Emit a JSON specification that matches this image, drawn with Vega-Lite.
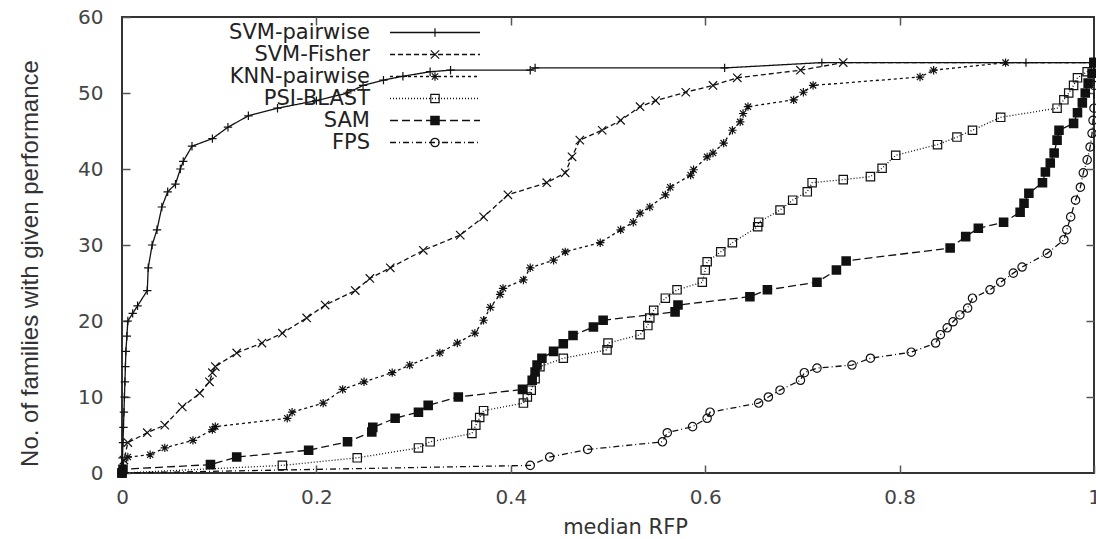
{
"$schema": "https://vega.github.io/schema/vega-lite/v6.json",
"width": 972, "height": 456,
"autosize": {"type": "none"},
"padding": {"left": 122, "top": 17, "right": 2, "bottom": 66},
"background": "white",
"config": {"view": {"stroke": "#333", "strokeWidth": 2}},
"data": {"values": [
{"m":"SVM-pairwise","x":0,"y":0},{"m":"SVM-pairwise","x":0.0005,"y":2},{"m":"SVM-pairwise","x":0.001,"y":4},{"m":"SVM-pairwise","x":0.0015,"y":6},{"m":"SVM-pairwise","x":0.002,"y":8},{"m":"SVM-pairwise","x":0.0025,"y":10},{"m":"SVM-pairwise","x":0.003,"y":12},{"m":"SVM-pairwise","x":0.0035,"y":14},{"m":"SVM-pairwise","x":0.004,"y":16},{"m":"SVM-pairwise","x":0.005,"y":18},{"m":"SVM-pairwise","x":0.006,"y":20},{"m":"SVM-pairwise","x":0.011,"y":21},{"m":"SVM-pairwise","x":0.016,"y":22},{"m":"SVM-pairwise","x":0.026,"y":24},{"m":"SVM-pairwise","x":0.027,"y":27},{"m":"SVM-pairwise","x":0.031,"y":30},{"m":"SVM-pairwise","x":0.036,"y":32},{"m":"SVM-pairwise","x":0.041,"y":35},{"m":"SVM-pairwise","x":0.047,"y":37},{"m":"SVM-pairwise","x":0.055,"y":38},{"m":"SVM-pairwise","x":0.06,"y":40},{"m":"SVM-pairwise","x":0.063,"y":41},{"m":"SVM-pairwise","x":0.072,"y":43},{"m":"SVM-pairwise","x":0.093,"y":44},{"m":"SVM-pairwise","x":0.109,"y":45.5},{"m":"SVM-pairwise","x":0.13,"y":47},{"m":"SVM-pairwise","x":0.16,"y":48},{"m":"SVM-pairwise","x":0.2,"y":49},{"m":"SVM-pairwise","x":0.232,"y":50},{"m":"SVM-pairwise","x":0.248,"y":51},{"m":"SVM-pairwise","x":0.269,"y":51.7},{"m":"SVM-pairwise","x":0.289,"y":52.2},{"m":"SVM-pairwise","x":0.317,"y":52.8},{"m":"SVM-pairwise","x":0.338,"y":53},{"m":"SVM-pairwise","x":0.42,"y":53},{"m":"SVM-pairwise","x":0.425,"y":53.3},{"m":"SVM-pairwise","x":0.62,"y":53.3},{"m":"SVM-pairwise","x":0.72,"y":54},{"m":"SVM-pairwise","x":0.93,"y":54},{"m":"SVM-pairwise","x":1,"y":54},
{"m":"SVM-Fisher","x":0,"y":0},{"m":"SVM-Fisher","x":0.002,"y":1.7},{"m":"SVM-Fisher","x":0.006,"y":4},{"m":"SVM-Fisher","x":0.026,"y":5.3},{"m":"SVM-Fisher","x":0.044,"y":6.3},{"m":"SVM-Fisher","x":0.062,"y":8.7},{"m":"SVM-Fisher","x":0.08,"y":10.5},{"m":"SVM-Fisher","x":0.09,"y":12},{"m":"SVM-Fisher","x":0.093,"y":13.2},{"m":"SVM-Fisher","x":0.096,"y":14},{"m":"SVM-Fisher","x":0.118,"y":15.8},{"m":"SVM-Fisher","x":0.144,"y":17.1},{"m":"SVM-Fisher","x":0.165,"y":18.4},{"m":"SVM-Fisher","x":0.19,"y":20.4},{"m":"SVM-Fisher","x":0.209,"y":22.1},{"m":"SVM-Fisher","x":0.24,"y":24},{"m":"SVM-Fisher","x":0.255,"y":25.6},{"m":"SVM-Fisher","x":0.276,"y":27},{"m":"SVM-Fisher","x":0.31,"y":29.3},{"m":"SVM-Fisher","x":0.348,"y":31.3},{"m":"SVM-Fisher","x":0.372,"y":33.7},{"m":"SVM-Fisher","x":0.397,"y":36.6},{"m":"SVM-Fisher","x":0.437,"y":38.2},{"m":"SVM-Fisher","x":0.456,"y":39.5},{"m":"SVM-Fisher","x":0.463,"y":41.6},{"m":"SVM-Fisher","x":0.471,"y":43.8},{"m":"SVM-Fisher","x":0.494,"y":45.1},{"m":"SVM-Fisher","x":0.513,"y":46.4},{"m":"SVM-Fisher","x":0.533,"y":48.2},{"m":"SVM-Fisher","x":0.549,"y":49},{"m":"SVM-Fisher","x":0.58,"y":50.1},{"m":"SVM-Fisher","x":0.608,"y":51},{"m":"SVM-Fisher","x":0.633,"y":52},{"m":"SVM-Fisher","x":0.698,"y":53},{"m":"SVM-Fisher","x":0.742,"y":54},{"m":"SVM-Fisher","x":1,"y":54},
{"m":"KNN-pairwise","x":0,"y":0},{"m":"KNN-pairwise","x":0.006,"y":2.1},{"m":"KNN-pairwise","x":0.029,"y":2.4},{"m":"KNN-pairwise","x":0.044,"y":3.3},{"m":"KNN-pairwise","x":0.073,"y":4.3},{"m":"KNN-pairwise","x":0.093,"y":5.7},{"m":"KNN-pairwise","x":0.096,"y":6.1},{"m":"KNN-pairwise","x":0.17,"y":7.2},{"m":"KNN-pairwise","x":0.175,"y":8},{"m":"KNN-pairwise","x":0.207,"y":9.2},{"m":"KNN-pairwise","x":0.227,"y":11},{"m":"KNN-pairwise","x":0.249,"y":12},{"m":"KNN-pairwise","x":0.278,"y":13.2},{"m":"KNN-pairwise","x":0.296,"y":14.2},{"m":"KNN-pairwise","x":0.327,"y":15.8},{"m":"KNN-pairwise","x":0.345,"y":17.1},{"m":"KNN-pairwise","x":0.363,"y":18.4},{"m":"KNN-pairwise","x":0.372,"y":20.1},{"m":"KNN-pairwise","x":0.379,"y":21.8},{"m":"KNN-pairwise","x":0.389,"y":23.5},{"m":"KNN-pairwise","x":0.392,"y":24.3},{"m":"KNN-pairwise","x":0.413,"y":25.4},{"m":"KNN-pairwise","x":0.42,"y":27},{"m":"KNN-pairwise","x":0.444,"y":28},{"m":"KNN-pairwise","x":0.456,"y":29.1},{"m":"KNN-pairwise","x":0.492,"y":30.3},{"m":"KNN-pairwise","x":0.513,"y":32},{"m":"KNN-pairwise","x":0.526,"y":33},{"m":"KNN-pairwise","x":0.533,"y":34.2},{"m":"KNN-pairwise","x":0.543,"y":35},{"m":"KNN-pairwise","x":0.559,"y":36.6},{"m":"KNN-pairwise","x":0.564,"y":37.6},{"m":"KNN-pairwise","x":0.585,"y":39.2},{"m":"KNN-pairwise","x":0.588,"y":39.9},{"m":"KNN-pairwise","x":0.602,"y":41.6},{"m":"KNN-pairwise","x":0.608,"y":42.1},{"m":"KNN-pairwise","x":0.619,"y":43.4},{"m":"KNN-pairwise","x":0.628,"y":45.1},{"m":"KNN-pairwise","x":0.636,"y":46.2},{"m":"KNN-pairwise","x":0.639,"y":47.3},{"m":"KNN-pairwise","x":0.644,"y":48.2},{"m":"KNN-pairwise","x":0.691,"y":49.1},{"m":"KNN-pairwise","x":0.701,"y":50.1},{"m":"KNN-pairwise","x":0.711,"y":51},{"m":"KNN-pairwise","x":0.821,"y":52.1},{"m":"KNN-pairwise","x":0.835,"y":53},{"m":"KNN-pairwise","x":0.909,"y":54},{"m":"KNN-pairwise","x":1,"y":54},
{"m":"PSI-BLAST","x":0,"y":0},{"m":"PSI-BLAST","x":0.165,"y":1},{"m":"PSI-BLAST","x":0.242,"y":2},{"m":"PSI-BLAST","x":0.305,"y":3.3},{"m":"PSI-BLAST","x":0.317,"y":4.1},{"m":"PSI-BLAST","x":0.36,"y":5.2},{"m":"PSI-BLAST","x":0.364,"y":6.3},{"m":"PSI-BLAST","x":0.368,"y":7.3},{"m":"PSI-BLAST","x":0.372,"y":8.2},{"m":"PSI-BLAST","x":0.413,"y":9.2},{"m":"PSI-BLAST","x":0.417,"y":10},{"m":"PSI-BLAST","x":0.421,"y":10.9},{"m":"PSI-BLAST","x":0.425,"y":12.4},{"m":"PSI-BLAST","x":0.43,"y":14},{"m":"PSI-BLAST","x":0.454,"y":15.1},{"m":"PSI-BLAST","x":0.499,"y":16.2},{"m":"PSI-BLAST","x":0.5,"y":17.1},{"m":"PSI-BLAST","x":0.533,"y":18.2},{"m":"PSI-BLAST","x":0.541,"y":19.4},{"m":"PSI-BLAST","x":0.543,"y":20.4},{"m":"PSI-BLAST","x":0.547,"y":21.4},{"m":"PSI-BLAST","x":0.559,"y":23},{"m":"PSI-BLAST","x":0.571,"y":24.1},{"m":"PSI-BLAST","x":0.597,"y":25.1},{"m":"PSI-BLAST","x":0.6,"y":26.7},{"m":"PSI-BLAST","x":0.602,"y":27.8},{"m":"PSI-BLAST","x":0.616,"y":29.1},{"m":"PSI-BLAST","x":0.628,"y":30.3},{"m":"PSI-BLAST","x":0.654,"y":32.4},{"m":"PSI-BLAST","x":0.655,"y":33},{"m":"PSI-BLAST","x":0.677,"y":34.6},{"m":"PSI-BLAST","x":0.69,"y":35.9},{"m":"PSI-BLAST","x":0.705,"y":37},{"m":"PSI-BLAST","x":0.71,"y":38.2},{"m":"PSI-BLAST","x":0.742,"y":38.6},{"m":"PSI-BLAST","x":0.77,"y":39},{"m":"PSI-BLAST","x":0.782,"y":40.1},{"m":"PSI-BLAST","x":0.796,"y":41.8},{"m":"PSI-BLAST","x":0.839,"y":43.2},{"m":"PSI-BLAST","x":0.859,"y":44.2},{"m":"PSI-BLAST","x":0.875,"y":45.1},{"m":"PSI-BLAST","x":0.904,"y":46.8},{"m":"PSI-BLAST","x":0.962,"y":48},{"m":"PSI-BLAST","x":0.969,"y":49.1},{"m":"PSI-BLAST","x":0.974,"y":50},{"m":"PSI-BLAST","x":0.979,"y":51},{"m":"PSI-BLAST","x":0.983,"y":52},{"m":"PSI-BLAST","x":0.993,"y":52.8},{"m":"PSI-BLAST","x":1,"y":54},
{"m":"SAM","x":0,"y":0},{"m":"SAM","x":0.001,"y":0.5},{"m":"SAM","x":0.091,"y":1.1},{"m":"SAM","x":0.118,"y":2.1},{"m":"SAM","x":0.192,"y":3},{"m":"SAM","x":0.232,"y":4.1},{"m":"SAM","x":0.257,"y":5.4},{"m":"SAM","x":0.258,"y":6},{"m":"SAM","x":0.281,"y":7.2},{"m":"SAM","x":0.305,"y":8},{"m":"SAM","x":0.315,"y":8.9},{"m":"SAM","x":0.346,"y":10},{"m":"SAM","x":0.412,"y":11},{"m":"SAM","x":0.422,"y":12.2},{"m":"SAM","x":0.425,"y":13.3},{"m":"SAM","x":0.427,"y":14.2},{"m":"SAM","x":0.432,"y":15.1},{"m":"SAM","x":0.444,"y":16},{"m":"SAM","x":0.454,"y":17},{"m":"SAM","x":0.464,"y":18.1},{"m":"SAM","x":0.485,"y":19.2},{"m":"SAM","x":0.495,"y":20.1},{"m":"SAM","x":0.569,"y":21.2},{"m":"SAM","x":0.572,"y":22.1},{"m":"SAM","x":0.646,"y":23.2},{"m":"SAM","x":0.664,"y":24.1},{"m":"SAM","x":0.715,"y":25.1},{"m":"SAM","x":0.735,"y":26.7},{"m":"SAM","x":0.745,"y":27.9},{"m":"SAM","x":0.852,"y":29.6},{"m":"SAM","x":0.868,"y":31.1},{"m":"SAM","x":0.881,"y":32.2},{"m":"SAM","x":0.907,"y":33},{"m":"SAM","x":0.924,"y":34.3},{"m":"SAM","x":0.928,"y":35.5},{"m":"SAM","x":0.933,"y":36.8},{"m":"SAM","x":0.947,"y":38.2},{"m":"SAM","x":0.95,"y":39.6},{"m":"SAM","x":0.955,"y":40.8},{"m":"SAM","x":0.959,"y":42.1},{"m":"SAM","x":0.962,"y":43.8},{"m":"SAM","x":0.964,"y":45.1},{"m":"SAM","x":0.979,"y":46},{"m":"SAM","x":0.983,"y":47.4},{"m":"SAM","x":0.988,"y":48.7},{"m":"SAM","x":0.991,"y":50},{"m":"SAM","x":0.994,"y":51.3},{"m":"SAM","x":0.998,"y":52.6},{"m":"SAM","x":1,"y":54},
{"m":"FPS","x":0,"y":0},{"m":"FPS","x":0.42,"y":1},{"m":"FPS","x":0.44,"y":2.1},{"m":"FPS","x":0.479,"y":3.1},{"m":"FPS","x":0.556,"y":4.1},{"m":"FPS","x":0.561,"y":5.3},{"m":"FPS","x":0.587,"y":6.1},{"m":"FPS","x":0.602,"y":7.2},{"m":"FPS","x":0.605,"y":8},{"m":"FPS","x":0.655,"y":9.2},{"m":"FPS","x":0.665,"y":10},{"m":"FPS","x":0.677,"y":10.9},{"m":"FPS","x":0.698,"y":12.2},{"m":"FPS","x":0.702,"y":13.2},{"m":"FPS","x":0.715,"y":13.8},{"m":"FPS","x":0.751,"y":14.2},{"m":"FPS","x":0.77,"y":15.1},{"m":"FPS","x":0.812,"y":15.9},{"m":"FPS","x":0.837,"y":17.1},{"m":"FPS","x":0.842,"y":18.2},{"m":"FPS","x":0.849,"y":19.1},{"m":"FPS","x":0.855,"y":19.9},{"m":"FPS","x":0.862,"y":20.8},{"m":"FPS","x":0.87,"y":21.7},{"m":"FPS","x":0.875,"y":23},{"m":"FPS","x":0.893,"y":24.1},{"m":"FPS","x":0.904,"y":25.1},{"m":"FPS","x":0.917,"y":26.3},{"m":"FPS","x":0.926,"y":27.1},{"m":"FPS","x":0.952,"y":28.9},{"m":"FPS","x":0.969,"y":30.7},{"m":"FPS","x":0.972,"y":32},{"m":"FPS","x":0.976,"y":33.7},{"m":"FPS","x":0.981,"y":35.9},{"m":"FPS","x":0.986,"y":37.6},{"m":"FPS","x":0.989,"y":39.5},{"m":"FPS","x":0.993,"y":41.2},{"m":"FPS","x":0.996,"y":42.9},{"m":"FPS","x":0.998,"y":44.7},{"m":"FPS","x":0.999,"y":46.4},{"m":"FPS","x":1,"y":48},{"m":"FPS","x":1,"y":51},{"m":"FPS","x":1,"y":54}
]},
"layer": [
{
"mark": {"type": "line", "strokeWidth": 1.3, "color": "#111"},
"encoding": {
"x": {"field": "x", "type": "quantitative", "scale": {"domain": [0, 1], "nice": false, "zero": false},
"axis": {"orient": "bottom", "values": [0, 0.2, 0.4, 0.6, 0.8, 1], "format": ".1~f", "domain": false, "grid": false, "tickSize": -8, "tickColor": "#555", "tickWidth": 1.5, "labelPadding": 22, "labelFlush": false, "labelOverlap": false, "labelFont": "DejaVu Sans", "labelFontSize": 20, "labelColor": "#444", "title": "median RFP", "titleFont": "DejaVu Sans", "titleFontSize": 21, "titleFontWeight": "normal", "titleColor": "#333", "titleX": 503, "titleY": 54, "titleBaseline": "middle"}},
"y": {"field": "y", "type": "quantitative", "scale": {"domain": [0, 60], "nice": false},
"axis": {"orient": "left", "values": [0, 10, 20, 30, 40, 50, 60], "domain": false, "grid": false, "tickSize": -8, "tickColor": "#555", "tickWidth": 1.5, "labelPadding": 27, "labelFlush": false, "labelOverlap": false, "labelFont": "DejaVu Sans", "labelFontSize": 20, "labelColor": "#444", "title": "No. of families with given performance", "titleFont": "Liberation Sans", "titleFontSize": 24, "titleFontWeight": "normal", "titleColor": "#333", "titleX": -92, "titleY": 246, "titleBaseline": "middle"}},
"strokeDash": {"field": "m", "type": "nominal",
"scale": {"domain": ["SVM-pairwise", "SVM-Fisher", "KNN-pairwise", "PSI-BLAST", "SAM", "FPS"], "range": [[1, 0], [5, 3], [3, 3], [1, 2], [8, 4], [6, 3, 1, 3]]},
"legend": {"orient": "none", "legendX": 302.5, "legendY": 5, "title": null, "symbolType": "M-9,0H9", "symbolSize": 100, "symbolStrokeWidth": 1.3, "symbolStrokeColor": "#111", "symbolFillColor": "transparent", "symbolOpacity": 1, "rowPadding": 0, "padding": 0, "labelAlign": "right", "labelOffset": -75.5, "labelFont": "DejaVu Sans", "labelFontSize": 21, "labelColor": "#222", "labelLimit": 400, "labelBaseline": "middle"}},
"order": [{"field": "x", "type": "quantitative"}, {"field": "y", "type": "quantitative"}]
}
},
{
"mark": {"type": "point", "strokeWidth": 1.2, "stroke": "#111", "filled": false, "opacity": 1, "size": 70},
"encoding": {
"x": {"field": "x", "type": "quantitative", "axis": {"orient": "top", "values": [0.2, 0.4, 0.6, 0.8], "labels": false, "domain": false, "grid": false, "tickSize": -8, "tickColor": "#555", "tickWidth": 1.5, "title": null}},
"y": {"field": "y", "type": "quantitative", "axis": {"orient": "right", "values": [10, 20, 30, 40, 50], "labels": false, "domain": false, "grid": false, "tickSize": -8, "tickColor": "#555", "tickWidth": 1.5, "title": null}},
"shape": {"field": "m", "type": "nominal", "sort": ["SVM-pairwise", "SVM-Fisher", "KNN-pairwise", "PSI-BLAST", "SAM", "FPS"],
"scale": {"range": ["M-1,0H1M0,-1V1", "M-1,-1L1,1M-1,1L1,-1", "M-1,0H1M0,-1V1M-0.75,-0.75L0.75,0.75M-0.75,0.75L0.75,-0.75", "square", "M-1,-1H1V1H-1ZM-1,-0.75H1M-1,-0.5H1M-1,-0.25H1M-1,0H1M-1,0.25H1M-1,0.5H1M-1,0.75H1", "circle"]},
"legend": {"orient": "top-left", "offset": 5, "symbolOffset": 297.5, "title": null, "symbolSize": 70, "symbolStrokeWidth": 1.2, "symbolStrokeColor": "#111", "symbolFillColor": "white", "rowPadding": 0, "padding": 0, "labelOpacity": 0, "labelFont": "DejaVu Sans", "labelFontSize": 21, "labelLimit": 400, "labelBaseline": "middle", "labelOffset": 0}}
}
}
],
"resolve": {"axis": {"x": "independent", "y": "independent"}}
}
